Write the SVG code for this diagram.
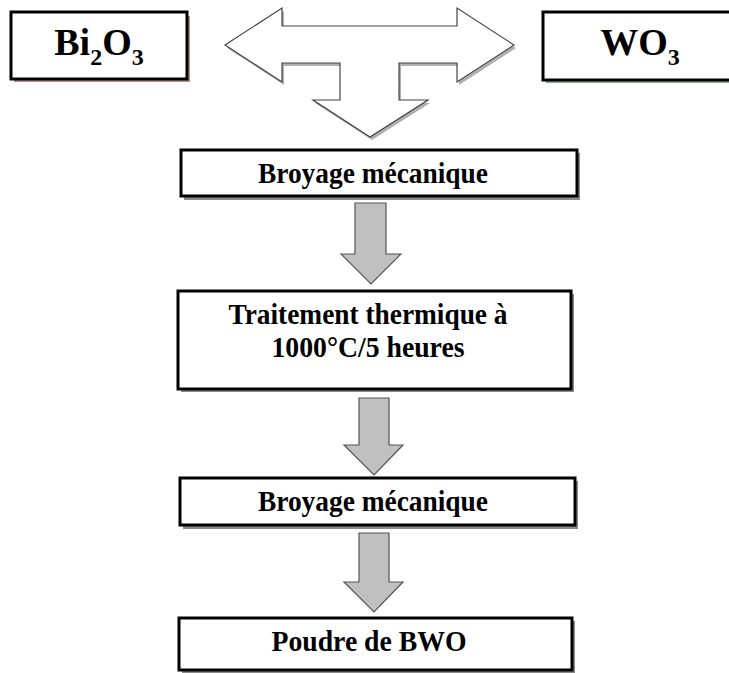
<svg xmlns="http://www.w3.org/2000/svg" width="729" height="673" viewBox="0 0 729 673">
<style>
.box{fill:#fff;stroke:#000;stroke-width:3}
.shadow{fill:#8a8a8a}
.t{font-family:"Liberation Serif","Times New Roman",serif;font-weight:bold;fill:#000;text-anchor:middle}
.lbl{font-size:30px}
.big{font-size:38px}
.sub{font-size:24px}
.garrow{fill:#c0c0c0;stroke:#555;stroke-width:1.2}
.warrow{fill:#fff;stroke:#444;stroke-width:1.2}
.ashadow{fill:#b0b0b0}
</style>
<rect width="729" height="673" fill="#fff"/>
<g id="connectors">
  <polygon class="ashadow" transform="translate(2,3)" points="225,45 282,8 282,26 457,26 457,8 514,45 457,82 457,63 399,63 399,100 428,100 370,137 313,100 340,100 340,63 282,63 282,82"/>
  <polygon class="warrow" points="225,45 282,8 282,26 457,26 457,8 514,45 457,82 457,63 399,63 399,100 428,100 370,137 313,100 340,100 340,63 282,63 282,82"/>
  <polygon class="garrow" points="355,203 386,203 386,254 401,254 371,284 341,254 355,254"/>
  <polygon class="garrow" points="359,398 389,398 389,445 403,445 374,475 344,445 359,445"/>
  <polygon class="garrow" points="359,533 389,533 389,582 403,582 374,612 344,582 359,582"/>
</g>
<g id="bi2o3">
  <rect x="14" y="16" width="176" height="66" fill="#b09090"/>
  <rect class="box" x="11" y="12" width="176" height="67"/>
  <text class="t big" x="99" y="55">Bi<tspan class="sub" dy="10">2</tspan><tspan dy="-10">O</tspan><tspan class="sub" dy="10">3</tspan></text>
</g>
<g id="wo3">
  <rect x="546" y="16" width="190" height="67" fill="#9aa890"/>
  <rect class="box" x="543" y="12" width="190" height="68"/>
  <text class="t big" x="640" y="55">WO<tspan class="sub" dy="10">3</tspan></text>
</g>
<g id="broyage1">
  <rect class="shadow" x="184" y="153" width="396" height="47"/>
  <rect class="box" x="181" y="150" width="396" height="46"/>
  <text class="t lbl" x="373" y="183" textLength="230" lengthAdjust="spacingAndGlyphs">Broyage mécanique</text>
</g>
<g id="traitement">
  <rect class="shadow" x="181" y="294" width="393" height="98"/>
  <rect class="box" x="178" y="291" width="393" height="98"/>
  <text class="t lbl" x="368" y="324" textLength="279" lengthAdjust="spacingAndGlyphs">Traitement thermique à</text>
  <text class="t lbl" x="368" y="357" textLength="193" lengthAdjust="spacingAndGlyphs">1000°C/5 heures</text>
</g>
<g id="broyage2">
  <rect class="shadow" x="183" y="481" width="395" height="48"/>
  <rect class="box" x="180" y="478" width="395" height="47"/>
  <text class="t lbl" x="373" y="511" textLength="230" lengthAdjust="spacingAndGlyphs">Broyage mécanique</text>
</g>
<g id="poudre">
  <rect class="shadow" x="182" y="621" width="393" height="52"/>
  <rect class="box" x="179" y="618" width="393" height="52"/>
  <text class="t lbl" x="369" y="651" textLength="195" lengthAdjust="spacingAndGlyphs">Poudre de BWO</text>
</g>
</svg>
